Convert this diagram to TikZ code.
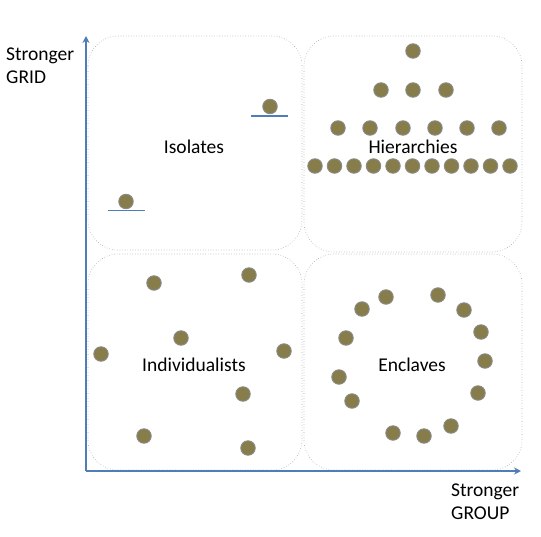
\documentclass[tikz,border=0pt]{standalone}
\usepackage{fontspec}
\setmainfont{Carlito}
\usetikzlibrary{arrows.meta}
\definecolor{axisblue}{HTML}{4F7DB5}
\definecolor{olive}{HTML}{877D4A}
\definecolor{dotedge}{HTML}{8A8A8A}
\definecolor{boxgray}{HTML}{A8A8A8}
\tikzset{
  dot/.style={circle,fill=olive,draw=dotedge,line width=0.9pt,minimum size=14.5pt,inner sep=0pt},
  quad/.style={draw=boxgray,dotted,line width=0.6pt,rounded corners=30pt},
  axis/.style={draw=axisblue,line width=1.8pt,-{Stealth[length=7pt,width=7pt]}},
  shelf/.style={draw=axisblue,line width=1.8pt},
  lbl/.style={font=\fontsize{19.5}{23}\selectfont,inner sep=0pt},
}
\begin{document}
\begin{tikzpicture}[x=1pt,y=-1pt]
\useasboundingbox (0,0) rectangle (541,536);
% quadrants
\draw[quad] (88,36) rectangle (302,250);
\draw[quad] (304,36) rectangle (522,252);
\draw[quad] (88,254) rectangle (302,470);
\draw[quad] (304,254) rectangle (522,470);
% axes
\coordinate (o) at (86,471);
\coordinate (ytip) at (86,36);
\coordinate (xtip) at (521,471);
\draw[axis] (o) -- (ytip);
\draw[axis] (o) -- (xtip);
% axis labels
\node[lbl,align=left,anchor=west] (grid) at (6,65.5) {Stronger\\GRID};
\node[lbl,align=left,anchor=west] (group) at (451,501.5) {Stronger\\GROUP};
% quadrant labels
\node[lbl] (iso) at (194,147) {Isolates};
\node[lbl] (hier) at (413,147) {Hierarchies};
\node[lbl] (ind) at (194,365) {Individualists};
\node[lbl] (encl) at (412,365) {Enclaves};
% isolates
\coordinate (s1a) at (108,210.5); \coordinate (s1b) at (145,210.5);
\coordinate (s2a) at (251,116); \coordinate (s2b) at (288,116);
\draw[shelf] (s1a) -- (s1b);
\draw[shelf] (s2a) -- (s2b);
\node[dot] (i1) at (126,201.5) {};
\node[dot] (i2) at (270,106.5) {};
% hierarchies
\node[dot] (h1) at (413,51) {};
\foreach \x [count=\k] in {381,413,446} \node[dot] (h2\k) at (\x,90) {};
\foreach \x [count=\k] in {338,370,403,435,467,499} \node[dot] (h3\k) at (\x,128) {};
\foreach \k in {0,...,10} \node[dot] (h4\k) at (315+19.5*\k,166) {};
% individualists
\foreach \x/\y [count=\k] in {154/283,249/275,181/338,101/354,284/351,243/394,144/436,248/448}
  \node[dot] (d\k) at (\x,\y) {};
% enclaves
\foreach \x/\y [count=\k] in {386/297,438/295,362/309,464/310,346/338,481/332,485/361,339/377,478/393,352/401,451/426,393/433,424/436}
  \node[dot] (e\k) at (\x,\y) {};
\end{tikzpicture}
\end{document}
